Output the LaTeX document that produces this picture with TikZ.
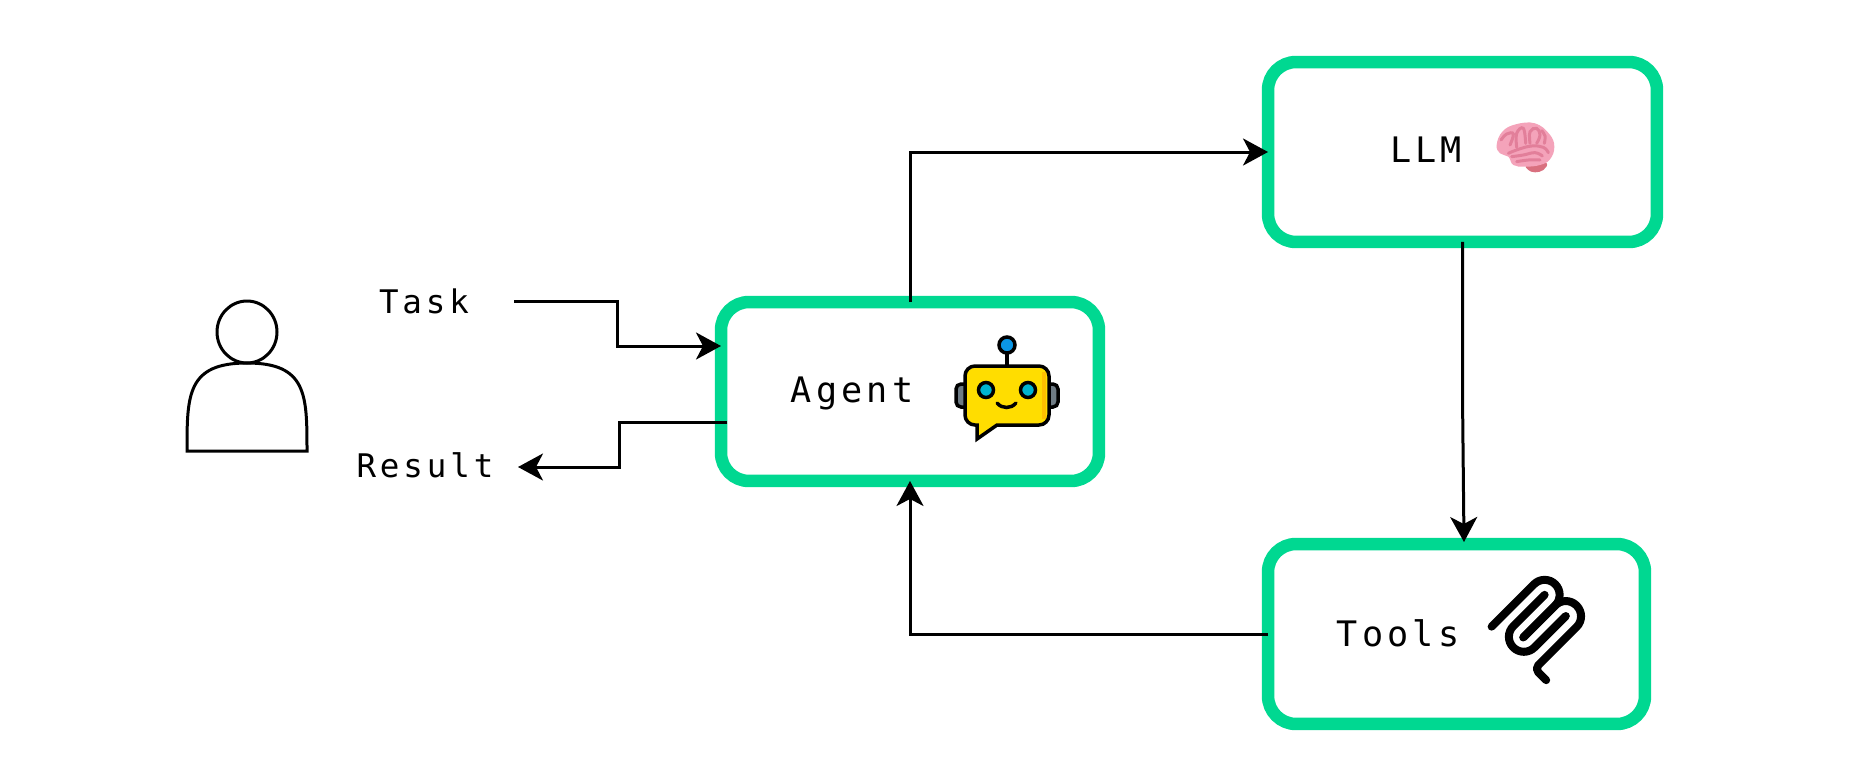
\documentclass[tikz,border=0pt]{standalone}
\usepackage{fontspec}
\usepackage{tikz}
\usetikzlibrary{arrows.meta}
\newfontfamily\monoLabel[LetterSpace=12]{DejaVu Sans Mono}
\definecolor{acGreen}{HTML}{00D891}
\definecolor{acYellow}{HTML}{FFDD00}
\definecolor{acAmber}{HTML}{FFC000}
\definecolor{acGray}{HTML}{6F7C85}
\definecolor{acBlue}{HTML}{0B96E6}
\definecolor{acCyan}{HTML}{00B4D0}
\definecolor{acPink}{HTML}{F4A3BA}
\definecolor{acPinkDark}{HTML}{E27F9A}
\definecolor{acPinkDeep}{HTML}{D9707F}
\tikzset{
  acbox/.style={draw=acGreen, line width=0.25cm, rounded corners=0.56cm, outer sep=0pt},
  aclabel/.style={font=\monoLabel\fontsize{18.5}{22}\selectfont, text=black, inner sep=0pt},
  acboxlabel/.style={font=\monoLabel\fontsize{20}{24}\selectfont, text=black, inner sep=0pt},
  acflow/.style={draw=black, line width=0.06cm, -{Stealth[length=0.5cm, width=0.54cm, inset=0.14cm]}},
  acicon/.style={draw=black, line width=0.07cm},
  acfold/.style={draw=acPinkDark, line width=0.06cm, line cap=round},
}
\begin{document}
\begin{tikzpicture}[x=0.02cm, y=-0.02cm]
  \useasboundingbox (0,0) rectangle (1853,778);
  \fill[white] (0,0) rectangle (1853,778);
  % osoba
  \draw[black, line width=0.06cm] (247,332) ellipse [x radius=30, y radius=31];
  \draw[black, line width=0.06cm] (187,451) .. controls (187,395) and (187,363) .. (247,363)
    .. controls (307,363) and (307,395) .. (307,451) -- cycle;
  % bloki
  \node[acbox, minimum width=7.56cm, minimum height=3.58cm] (agent) at (910,391.5){};
  \node[acbox, minimum width=7.78cm, minimum height=3.6cm] (llm) at (1462.5,152){};
  \node[acbox, minimum width=7.54cm, minimum height=3.6cm] (tools) at (1456.5,634){};
  % napisy
  \node[aclabel, minimum width=3.6cm] (task) at (424,301){Task};
  \node[aclabel] (result) at (425,465){Result};
  \node[acboxlabel] (agentLabel) at (852,393){Agent};
  \node[acboxlabel] (llmLabel) at (1426,150){LLM};
  \node[acboxlabel] (toolsLabel) at (1398,633){Tools};
  % punkty pomocnicze
  \coordinate (taskBend) at (617,346);
  \coordinate (agentIn) at (721,346);
  \coordinate (agentOut) at (727,422);
  \coordinate (resultBend) at (619,467);
  \coordinate (resultIn) at (518,467);
  \coordinate (llmBend) at (1462.5,396);
  \coordinate (toolsIn) at (1464,542);
  % polaczenia
  \draw[acflow] (task.east) -| (taskBend) -- (agentIn);
  \draw[acflow] (agentOut) -| (resultBend) -- (resultIn);
  \draw[acflow] (agent.north) |- (llm.west);
  \draw[acflow] (llm.south) -- (llmBend) -- (toolsIn);
  \draw[acflow] (tools.west) -| (agent.south);
  % robot
  \draw[acicon, fill=acGray, rounded corners=0.1cm] (965,384) -- (956,384) -- (956,407) -- (965,407);
  \draw[acicon, fill=acGray, rounded corners=0.1cm] (1049,384) -- (1058,384) -- (1058,407) -- (1049,407);
  \draw[acicon] (1007,353) -- (1007,366);
  \draw[acicon, fill=acBlue] (1007,345) circle [radius=8];
  \draw[acicon, fill=acYellow, rounded corners=0.2cm] (965,395) -- (965,366) -- (1049,366) -- (1049,425)
    -- (1020,425) [sharp corners] -- (997,425) -- (977,439) -- (977,425) [rounded corners=0.2cm] -- (965,425) -- cycle;
  \fill[acAmber] (1042,372) rectangle (1046,419);
  \draw[acicon, fill=acCyan] (986,390) circle [radius=7.5];
  \draw[acicon, fill=acCyan] (1028,390) circle [radius=7.5];
  \draw[acicon, line cap=round] (997,403) .. controls (1002,409) and (1011,409) .. (1016,403);
  % mozg
  \begin{scope}[shift={(1485,110)}, x=0.00667cm, y=-0.00667cm]
    \fill[acPinkDeep] plot[smooth cycle, tension=.7] coordinates {(122,165) (150,155) (185,160) (175,180) (150,187) (130,180)};
    \fill[acPink] plot[smooth cycle, tension=.7] coordinates {(35,105) (52,65) (92,43) (150,40) (193,72) (208,110) (195,148) (165,165) (120,170) (85,165) (70,140) (45,130)};
    \draw[acfold] plot[smooth, tension=.7] coordinates {(70,130) (100,118) (140,108) (175,112) (190,128)};
    \draw[acfold] plot[smooth, tension=.7] coordinates {(80,140) (115,135) (150,128) (172,138)};
    \draw[acfold] plot[smooth, tension=.7] coordinates {(95,155) (130,150) (165,150)};
    \draw[acfold] plot[smooth, tension=.7] coordinates {(48,90) (65,72) (85,72) (75,105)};
    \draw[acfold] plot[smooth, tension=.7] coordinates {(95,112) (95,70) (115,55) (122,100)};
    \draw[acfold] plot[smooth, tension=.7] coordinates {(135,100) (135,65) (155,55) (165,75) (155,100)};
    \draw[acfold] plot[smooth, tension=.7] coordinates {(178,100) (180,78) (170,62)};
  \end{scope}
  % ikona narzedzi
  \begin{scope}[shift={(1476,565.5)}, x=0.0125cm, y=-0.0125cm, line width=0.16cm, line cap=round, line join=round]
    \draw (25,97.85) -- (92.88,29.97) .. controls (102.26,20.6) and (117.45,20.6) .. (126.82,29.97)
      .. controls (136.2,39.34) and (136.2,54.54) .. (126.82,63.91) -- (75.56,115.18);
    \draw (76.27,114.47) -- (126.82,63.91) .. controls (136.2,54.54) and (151.39,54.54) .. (160.77,63.91)
      -- (161.12,64.27) .. controls (170.49,73.64) and (170.49,88.83) .. (161.12,98.21) -- (99.72,159.6)
      .. controls (96.6,162.72) and (96.6,167.79) .. (99.72,170.91) -- (112.33,183.52);
    \draw (109.85,46.94) -- (59.65,97.15) .. controls (50.28,106.52) and (50.28,121.71) .. (59.65,131.09)
      .. controls (69.02,140.46) and (84.22,140.46) .. (93.59,131.09) -- (143.79,80.88);
  \end{scope}
\end{tikzpicture}
\end{document}
